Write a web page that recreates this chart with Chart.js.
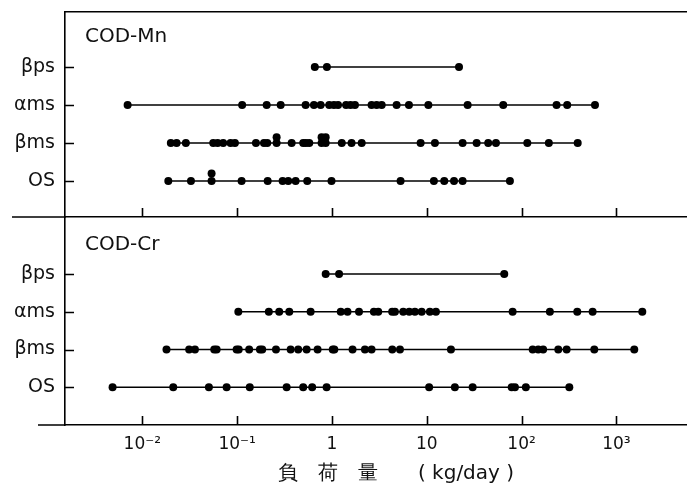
<!DOCTYPE html>
<html>
<head>
<meta charset="utf-8">
<script src="https://cdn.jsdelivr.net/npm/chart.js@4"></script>
<style>
  body { margin: 0; background: #fff; }
  .wrap { position: relative; width: 687px; height: 487px; }
  #topChart { position: absolute; left: 0; top: 0; }
  #botChart { position: absolute; left: 0; top: 217px; }
</style>
</head>
<body>
<div class="wrap">
  <canvas id="topChart" width="687" height="218"></canvas>
  <canvas id="botChart" width="687" height="270"></canvas>
</div>
<script>
// rows, bottom to top
const rowNames = ['OS', 'βms', 'αms', 'βps'];
const decadeTicks = [0.01, 0.1, 1, 10, 100, 1000];
const tickLabels = ['10⁻²', '10⁻¹', '1', '10', '10²', '10³'];
const xMin = 0.00153, xMax = 5560;

// COD-Mn (kg/day)
const mnBps = [0.66, 0.885, 21.9];
const mnAms = [0.0070, 0.113, 0.205, 0.288, 0.528, 0.646, 0.760, 0.937, 1.05, 1.16, 1.41, 1.57, 1.75,
  2.62, 2.96, 3.35, 4.81, 6.49, 10.4, 27.0, 64.1, 234, 303, 595];
const mnBms = [0.0200, 0.0230, 0.0288, 0.0560, 0.0623, 0.0713, 0.0853, 0.0948, 0.158, 0.192, 0.208,
  0.261, 0.376, 0.498, 0.532, 0.577, 0.778, 0.859, 1.27, 1.61, 2.06, 8.62, 12.2, 23.9, 33.6, 44.5,
  53.7, 115, 194, 391];
const mnOs = [0.0188, 0.0326, 0.0538, 0.1115, 0.210, 0.302, 0.346, 0.414, 0.549, 0.99, 5.30, 11.9,
  15.3, 19.4, 23.9, 75.4];
// overlapping (stacked) dots
const mnBmsStack = [0.261, 0.778, 0.859];
const mnOsStack = [0.0538];

// COD-Cr (kg/day)
const crBps = [0.859, 1.19, 65.7];
const crAms = [0.103, 0.216, 0.278, 0.355, 0.596, 1.24, 1.46, 1.93, 2.77, 3.08, 4.32, 4.62, 5.65,
  6.54, 7.50, 8.84, 10.8, 12.5, 80.5, 199, 387, 562, 1877];
const crBms = [0.0180, 0.0312, 0.0359, 0.0574, 0.0608, 0.0988, 0.104, 0.134, 0.174, 0.184, 0.257,
  0.367, 0.441, 0.541, 0.706, 1.02, 1.06, 1.65, 2.23, 2.62, 4.33, 5.22, 18.0, 131, 150, 169, 244,
  299, 585, 1545];
const crOs = [0.00486, 0.0212, 0.0504, 0.0775, 0.136, 0.333, 0.498, 0.619, 0.879, 10.6, 19.8, 30.5,
  78.7, 85.2, 111, 319];

const FONT = "'DejaVu Sans', sans-serif";

function rowSet(vals, row, line, lift) {
  return {
    data: vals.map(v => ({ x: v, y: row + (lift || 0) })),
    showLine: line,
    borderColor: '#000',
    borderWidth: 1.6,
    pointRadius: 4,
    pointBackgroundColor: '#000',
    pointBorderWidth: 0,
    clip: false
  };
}

// inward tick marks, panel title, separator line running left
const panelDecor = {
  id: 'panelDecor',
  afterDraw(chart, args, opts) {
    const ctx = chart.ctx;
    const a = chart.chartArea;
    const xs = chart.scales.x, ys = chart.scales.y;
    ctx.save();
    ctx.strokeStyle = '#000';
    ctx.lineWidth = 1.6;
    ctx.beginPath();
    decadeTicks.forEach(v => {
      const px = Math.round(xs.getPixelForValue(v)) + 0.5;
      ctx.moveTo(px, a.bottom);
      ctx.lineTo(px, a.bottom - 9);
    });
    rowNames.forEach((n, i) => {
      const py = Math.round(ys.getPixelForValue(i)) + 0.5;
      ctx.moveTo(a.left, py);
      ctx.lineTo(a.left + 9, py);
    });
    ctx.moveTo(opts.lineFrom, a.bottom);
    ctx.lineTo(a.left, a.bottom);
    ctx.stroke();
    ctx.fillStyle = '#111';
    ctx.font = '20px ' + FONT;
    ctx.textBaseline = 'middle';
    ctx.fillText(opts.title, a.left + 20, a.top + opts.titleDy);
    ctx.restore();
  }
};

function makePanel(id, datasets, yMin, yMax, padTop, xHeight, bottomAxis, decor) {
  const scales = {
    x: {
      type: 'logarithmic',
      min: xMin, max: xMax,
      afterBuildTicks: s => { s.ticks = decadeTicks.map(v => ({ value: v })); },
      afterFit: s => { s.height = xHeight; },
      grid: { display: false, drawTicks: false },
      border: { display: true, color: '#000', width: 1.6 },
      ticks: {
        display: bottomAxis,
        autoSkip: false, maxRotation: 0,
        padding: 9,
        color: '#111',
        font: { family: FONT, size: 17 },
        callback: (v, i) => tickLabels[i]
      },
      title: {
        display: bottomAxis,
        text: '　　負　荷　量　　( kg/day )',
        color: '#111',
        font: { family: FONT, size: 20 },
        padding: { top: 0, bottom: 1 }
      }
    },
    y: {
      type: 'linear',
      min: yMin, max: yMax,
      afterBuildTicks: s => { s.ticks = rowNames.map((n, i) => ({ value: i })); },
      afterFit: s => { s.width = 65; s.paddingTop = 0; s.paddingBottom = 0; },
      grid: { display: false, drawTicks: false },
      border: { display: true, color: '#000', width: 1.6 },
      ticks: {
        padding: 10,
        color: '#111',
        font: { family: FONT, size: 19 },
        callback: v => rowNames[v]
      }
    }
  };
  if (!bottomAxis) {
    // top frame line of the upper panel
    scales.x2 = {
      type: 'linear', position: 'top', display: true,
      afterFit: s => { s.height = 0; s.paddingLeft = 0; s.paddingRight = 0; },
      grid: { display: false, drawTicks: false },
      border: { display: true, color: '#000', width: 1.6 },
      ticks: { display: false }
    };
  }
  return new Chart(document.getElementById(id), {
    type: 'scatter',
    data: { datasets },
    options: {
      responsive: false,
      devicePixelRatio: 1,
      animation: false,
      events: [],
      layout: { autoPadding: false, padding: { top: padTop, left: 0, right: 0, bottom: 0 } },
      scales,
      plugins: { legend: { display: false }, tooltip: { enabled: false }, panelDecor: decor }
    },
    plugins: [panelDecor]
  });
}

makePanel('topChart', [
  rowSet(mnBps, 3, true), rowSet(mnAms, 2, true), rowSet(mnBms, 1, true), rowSet(mnOs, 0, true),
  rowSet(mnBmsStack, 1, false, 0.15), rowSet(mnOsStack, 0, false, 0.2)
], -0.947, 4.447, 12, 1, false, { title: 'COD-Mn', titleDy: 25, lineFrom: 12 });

makePanel('botChart', [
  rowSet(crBps, 3, true), rowSet(crAms, 2, true), rowSet(crBms, 1, true), rowSet(crOs, 0, true)
], -0.998, 4.509, 0, 62, true, { title: 'COD-Cr', titleDy: 28, lineFrom: 38 });
</script>
</body>
</html>
